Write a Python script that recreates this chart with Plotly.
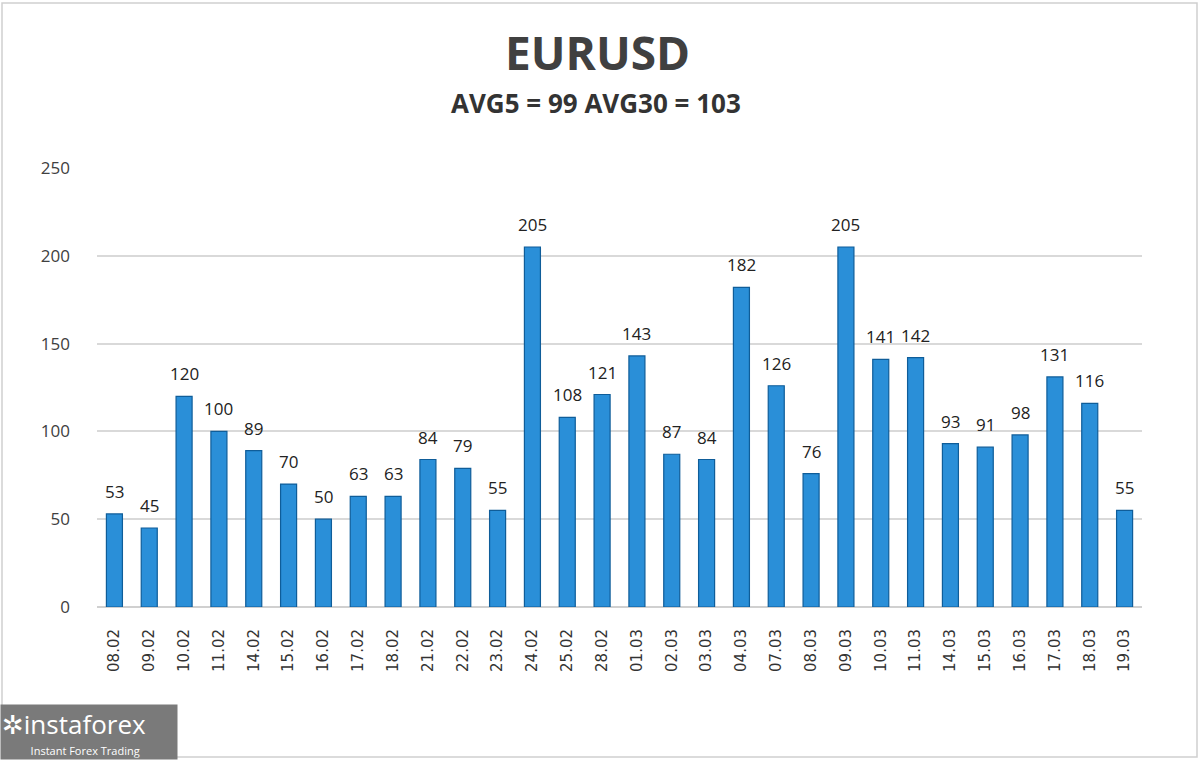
import plotly.graph_objects as go

dates = ["08.02","09.02","10.02","11.02","14.02","15.02","16.02","17.02","18.02","21.02",
         "22.02","23.02","24.02","25.02","28.02","01.03","02.03","03.03","04.03","07.03",
         "08.03","09.03","10.03","11.03","14.03","15.03","16.03","17.03","18.03","19.03"]
values = [53,45,120,100,89,70,50,63,63,84,79,55,205,108,121,143,87,84,182,126,
          76,205,141,142,93,91,98,131,116,55]
y_ticks = [0,50,100,150,200,250]

L, R, T, B = 97, 1200-1142, 168, 760-607
W = 1200 - L - R
H = 760 - T - B

fig = go.Figure()
fig.add_trace(go.Bar(
    x=dates, y=values, width=0.46,
    marker=dict(color="#2a8fd8", line=dict(color="#0f5d99", width=1.2)),
    cliponaxis=False,
))

def px_x(p): return (p - L) / W
def px_y(p): return (760 - B - p) / H

# category axis: annotation x given as category index
labels = [dict(x=i, y=v, xref="x", yref="y", text=str(v), showarrow=False,
               yanchor="bottom", yshift=9,
               font=dict(family="Open Sans, DejaVu Sans", size=17, color="#222222"))
          for i, v in enumerate(values)]

fig.update_layout(
    width=1200, height=760,
    margin=dict(l=L, r=R, t=T, b=B),
    paper_bgcolor="white", plot_bgcolor="white",
    showlegend=False,
    xaxis=dict(
        type="category", tickangle=-90, showgrid=False, zeroline=False,
        tickfont=dict(family="DejaVu Sans, Verdana", size=15, color="#333333"),
        ticks="", ticklabelstandoff=18, showline=False,
    ),
    yaxis=dict(
        range=[0, 250], tickvals=y_ticks, showgrid=True, gridcolor="#d9d9d9", gridwidth=1.5,
        zeroline=True, zerolinecolor="#d0d0d0", zerolinewidth=1.5,
        tickfont=dict(family="Open Sans, DejaVu Sans", size=17, color="#404040"),
        ticks="", ticklabelstandoff=26,
    ),
    annotations=labels + [
        dict(text="<b>EURUSD</b>", x=px_x(597), xref="paper", xanchor="center",
             y=px_y(52), yref="paper", yanchor="middle", showarrow=False,
             font=dict(family="Open Sans, DejaVu Sans", size=46, color="#404040")),
        dict(text="<b>AVG5 = 99 AVG30 = 103</b>", x=px_x(596), xref="paper", xanchor="center",
             y=px_y(103), yref="paper", yanchor="middle", showarrow=False,
             font=dict(family="Open Sans, DejaVu Sans", size=26, color="#333333")),
        dict(text="<span style='font-size:26px'><b>✲</b>instaforex</span><br><span style='font-size:11px'>          Instant Forex Trading</span>",
             x=px_x(0), xref="paper", xanchor="left", y=px_y(760), yref="paper", yanchor="bottom",
             showarrow=False, align="left", bgcolor="#7a7a7a", borderpad=1, width=174,
             font=dict(family="Open Sans, DejaVu Sans", size=16, color="white")),
    ],
    shapes=[
        dict(type="rect", xref="paper", yref="paper",
             x0=px_x(2), x1=px_x(1197), y0=px_y(757), y1=px_y(3),
             line=dict(color="#d0d0d0", width=1.5), layer="below"),
    ],
)

fig.write_html("out.html")
